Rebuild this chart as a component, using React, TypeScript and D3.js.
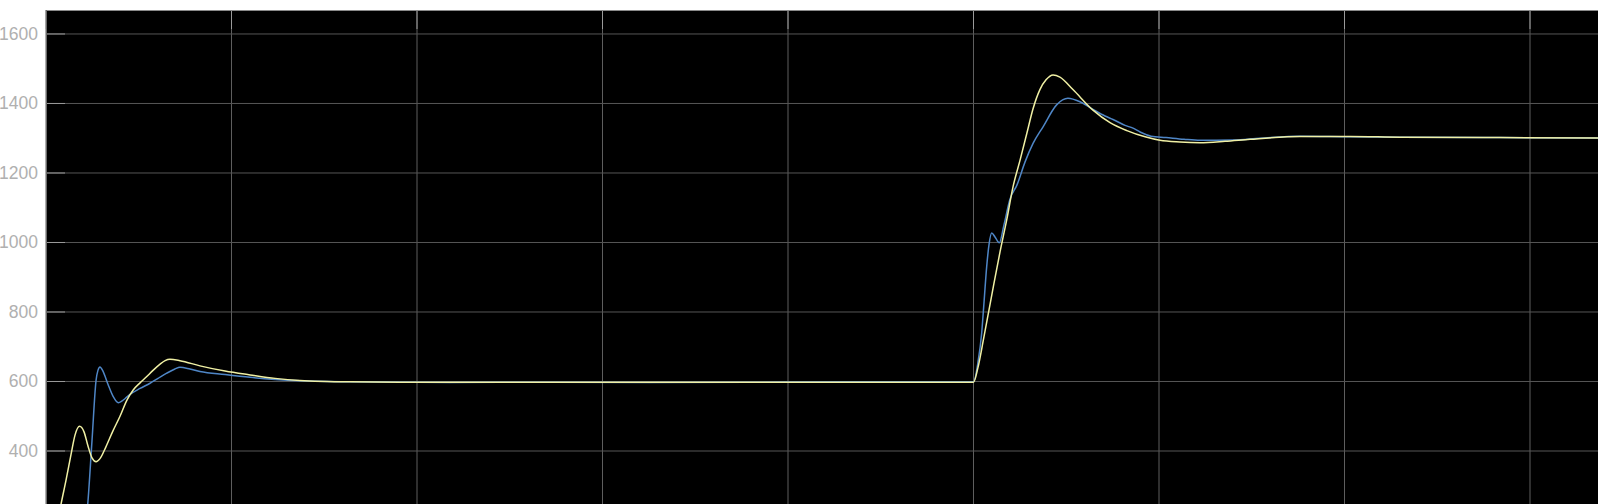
import * as React from 'react';
import * as d3 from 'd3';

// time axis in seconds, y axis in rpm
const xTicks = [0, 1, 2, 3, 4, 5, 6, 7, 8];
const yTicks = [400, 600, 800, 1000, 1200, 1400, 1600];

// reference (yellow)
const refTime = [
	0, 0.032, 0.054, 0.081, 0.108, 0.135, 0.156, 0.181, 0.205, 0.226, 0.248, 0.27, 0.291, 0.323, 0.361, 0.399,
	0.435, 0.469, 0.507, 0.539, 0.577, 0.615, 0.642, 0.668, 0.722, 0.83, 0.965, 1.1, 1.235, 1.369, 1.639, 1.908,
	2.447, 2.987, 3.526, 4.065, 4.604, 5.0, 5.024, 5.053, 5.078, 5.107, 5.143, 5.179, 5.213, 5.251, 5.288, 5.321,
	5.358, 5.391, 5.429, 5.466, 5.536, 5.644, 5.736, 5.827, 5.925, 6.005, 6.113, 6.221, 6.356, 6.491, 6.76, 7.03,
	7.299, 7.838, 8.367,
];
const refValue = [
	0, 100, 170, 247, 316, 390, 445, 471, 455, 415, 380, 369, 378, 412, 458, 500,
	545, 575, 596, 612, 632, 650, 660, 664, 660, 645, 630, 619, 609, 603, 599, 598,
	598, 598, 598, 598, 598, 598, 640, 719, 790, 873, 973, 1065, 1160, 1237, 1315, 1385,
	1440, 1468, 1482, 1476, 1440, 1381, 1345, 1322, 1304, 1294, 1289, 1287, 1291, 1297, 1305, 1305,
	1303, 1302, 1301,
];

// measured speed (blue)
const measTime = [
	0, 0.129, 0.173, 0.199, 0.225, 0.248, 0.27, 0.28, 0.291, 0.307, 0.334, 0.361, 0.39, 0.41, 0.435, 0.453,
	0.507, 0.561, 0.604, 0.651, 0.695, 0.722, 0.776, 0.83, 0.965, 1.1, 1.235, 1.369, 1.639, 2.178, 2.717, 3.256,
	3.795, 4.334, 4.873, 5.0, 5.024, 5.044, 5.057, 5.071, 5.084, 5.098, 5.116, 5.139, 5.164, 5.197, 5.234, 5.278,
	5.321, 5.375, 5.448, 5.509, 5.574, 5.644, 5.709, 5.752, 5.817, 5.86, 5.898, 5.957, 6.038, 6.135, 6.221, 6.399,
	6.545, 6.76, 7.03, 7.299, 7.838, 8.367,
];
const measValue = [
	0, 0, 30, 130, 247, 430, 604, 632, 642, 630, 592, 558, 539, 544, 555, 563,
	580, 595, 609, 624, 636, 641, 636, 629, 620, 612, 606, 602, 599, 597, 598, 597,
	598, 599, 599, 599, 655, 739, 830, 930, 995, 1027, 1016, 999, 1050, 1125, 1165, 1232,
	1285, 1333, 1396, 1415, 1405, 1383, 1364, 1354, 1337, 1329, 1318, 1306, 1302, 1297, 1294, 1295,
	1300, 1306, 1304, 1303, 1302, 1301,
];

const W = 1598;
const H = 504;
const left = 46;
const top = 10;

export default function App() {
	const x = d3.scaleLinear().domain([0, (W - left) / 185.5]).range([left, W]);
	const y = d3.scaleLinear().domain([247.5, 1669]).range([H, top]);

	const line = d3
		.line<[number, number]>()
		.x(d => x(d[0]))
		.y(d => y(d[1]))
		.curve(d3.curveMonotoneX);

	const ref = refTime.map((t, i) => [t, refValue[i]] as [number, number]);
	const meas = measTime.map((t, i) => [t, measValue[i]] as [number, number]);

	return (
		<svg width={W} height={H} style={{ position: 'absolute', left: 0, top: 0, background: '#fff' }}>
			<defs>
				<clipPath id='plot'>
					<rect x={left} y={top} width={W - left} height={H - top} />
				</clipPath>
			</defs>
			<rect x={left} y={top} width={W - left} height={H - top} fill='#000' />
			{xTicks.map(t => (
				<g key={'x' + t}>
					<line x1={x(t)} x2={x(t)} y1={top} y2={H} stroke='#5e5e5e' strokeWidth={1} />
					<line x1={x(t)} x2={x(t)} y1={top} y2={top + 19} stroke='#9a9a9a' strokeWidth={1} />
				</g>
			))}
			{yTicks.map(v => (
				<g key={'y' + v}>
					<line x1={left} x2={W} y1={y(v)} y2={y(v)} stroke='#565656' strokeWidth={1} />
					<line x1={left} x2={left + 19} y1={y(v)} y2={y(v)} stroke='#9a9a9a' strokeWidth={1} />
					<text
						x={38}
						y={y(v)}
						textAnchor='end'
						dominantBaseline='central'
						fill='#b0b0b0'
						fontFamily='Liberation Sans, Arial, sans-serif'
						fontSize={17.5}
					>
						{v}
					</text>
				</g>
			))}
			<line x1={left} x2={W} y1={top + 0.5} y2={top + 0.5} stroke='#8a8a8a' strokeWidth={1} />
			<line x1={left + 0.5} x2={left + 0.5} y1={top} y2={H} stroke='#6a6a6a' strokeWidth={1} />
			<g clipPath='url(#plot)'>
				<path d={line(meas) ?? ''} fill='none' stroke='#4f86c6' strokeWidth={1.5} />
				<path d={line(ref) ?? ''} fill='none' stroke='#f0f0a4' strokeWidth={1.5} />
			</g>
		</svg>
	);
}
